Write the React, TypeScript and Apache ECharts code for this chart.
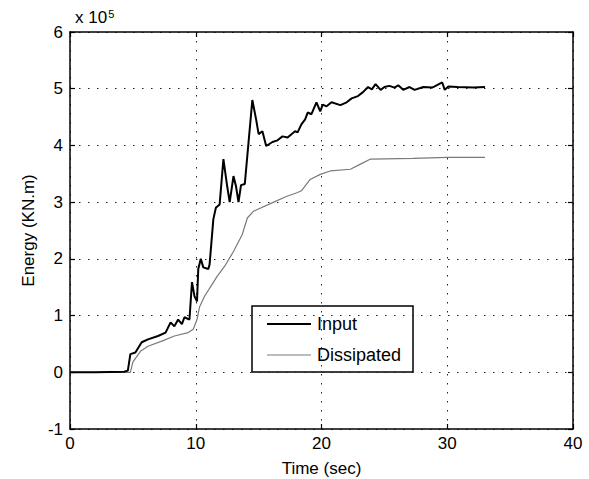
import React, { useEffect, useRef } from "react";
import * as echarts from "echarts";

// Values (energy in units of 10^5 KN.m)
const inputTime = [0, 2, 4.3, 4.6, 4.8, 5.2, 5.7, 6.2, 7.0, 7.6, 8.0, 8.3, 8.6, 8.9, 9.1, 9.5, 9.7, 9.9, 10.1, 10.2, 10.4, 10.6, 11.0, 11.1, 11.4, 11.6, 11.9, 12.2, 12.5, 12.7, 13.0, 13.2, 13.4, 13.6, 13.9, 14.2, 14.5, 14.8, 15.0, 15.3, 15.6, 16.1, 16.5, 16.9, 17.3, 17.9, 18.1, 18.4, 18.7, 18.9, 19.2, 19.6, 19.9, 20.1, 20.4, 20.8, 21.5, 22.0, 22.4, 22.9, 23.3, 23.7, 24.0, 24.3, 24.7, 25.0, 25.4, 25.8, 26.1, 26.5, 27.0, 27.4, 28.1, 28.8, 29.0, 29.6, 29.8, 30.1, 30.8, 32.1, 33.0];
const inputEnergy = [0, 0, 0.01, 0.03, 0.32, 0.35, 0.53, 0.58, 0.64, 0.7, 0.88, 0.81, 0.93, 0.85, 0.97, 0.93, 1.59, 1.34, 1.25, 1.82, 2.0, 1.85, 1.82, 1.9, 2.7, 2.9, 2.96, 3.76, 3.28, 3.0, 3.46, 3.28, 3.0, 3.3, 3.32, 4.06, 4.8, 4.46, 4.2, 4.25, 3.99, 4.06, 4.09, 4.16, 4.14, 4.25, 4.23, 4.37, 4.46, 4.58, 4.55, 4.76, 4.6, 4.72, 4.69, 4.76, 4.71, 4.76, 4.83, 4.87, 4.94, 5.03, 4.99, 5.08, 4.98, 5.03, 5.05, 5.02, 5.06, 4.98, 5.03, 4.98, 5.03, 5.02, 5.04, 5.11, 4.98, 5.04, 5.03, 5.02, 5.03];

const dissipatedTime = [0, 4.8, 5.0, 5.6, 6.2, 7.3, 8.3, 9.4, 9.8, 10.1, 10.3, 10.7, 11.3, 11.7, 12.3, 13.0, 13.7, 14.1, 14.6, 14.9, 16.2, 17.2, 18.1, 18.4, 19.1, 19.9, 20.7, 22.3, 23.1, 23.9, 27.3, 30, 33];
const dissipatedEnergy = [0, 0, 0.18, 0.37, 0.46, 0.55, 0.64, 0.7, 0.76, 0.93, 1.15, 1.34, 1.55, 1.69, 1.87, 2.13, 2.43, 2.72, 2.84, 2.87, 3.0, 3.1, 3.17, 3.2, 3.4, 3.49, 3.55, 3.58, 3.67, 3.76, 3.77, 3.79, 3.79];

const seriesNames = ["Input", "Dissipated"];
const seriesColors = ["#000", "#7a7a7a"];
const seriesWidths = [2, 1.2];
const xTitle = "Time (sec)";
const yTitle = "Energy (KN.m)";

const FONT = "'Liberation Sans', Arial, Helvetica, sans-serif";

export default function App() {
  const ref = useRef<HTMLDivElement>(null);

  useEffect(() => {
    if (!ref.current) return;
    const chart = echarts.init(ref.current, null, { renderer: "svg" });
    const zip = (a: number[], b: number[]) => a.map((t, i) => [t, b[i]]);

    const gridDots = { show: true, lineStyle: { color: "#222", type: [1.5, 7.5], width: 1 } };
    const axisLine = { show: true, onZero: false, lineStyle: { color: "#000", width: 1.5 } };
    const tick = { show: true, inside: true, length: 5, lineStyle: { color: "#000", width: 1.2 } };
    const label = { color: "#000", fontSize: 17, fontFamily: FONT };

    // legend drawn as a framed box (MATLAB style)
    const lgX = 252, lgY = 306, lgW = 161, lgH = 66;
    const rowYs = [324, 355];
    const legendEls: any[] = [
      {
        type: "rect",
        shape: { x: lgX, y: lgY, width: lgW, height: lgH },
        style: { fill: "#fff", stroke: "#000", lineWidth: 1.5 },
      },
    ];
    seriesNames.forEach((n, i) => {
      legendEls.push({
        type: "line",
        shape: { x1: lgX + 15, y1: rowYs[i], x2: lgX + 59, y2: rowYs[i] },
        style: { stroke: seriesColors[i], lineWidth: seriesWidths[i] },
      });
      legendEls.push({
        type: "text",
        x: lgX + 65,
        y: rowYs[i],
        style: { text: n, fill: "#000", fontSize: 18, fontFamily: FONT, verticalAlign: "middle", align: "left" },
      });
    });

    chart.setOption({
      animation: false,
      backgroundColor: "#fff",
      grid: { left: 70, right: 16, top: 32, bottom: 50, outerBoundsMode: "none" },
      graphic: [
        {
          type: "text",
          left: 75,
          top: 8,
          style: {
            text: "x 10{sup|5}",
            fill: "#000",
            fontSize: 17,
            fontFamily: FONT,
            rich: { sup: { fontSize: 11, verticalAlign: "top", padding: [0, 0, 8, 1], fontFamily: FONT, fill: "#000" } },
          },
        },
        { type: "group", z: 100, children: legendEls },
      ],
      xAxis: [
        {
          type: "value",
          min: 0,
          max: 40,
          interval: 10,
          name: xTitle,
          nameLocation: "middle",
          nameGap: 31,
          nameTextStyle: { color: "#000", fontSize: 17, fontFamily: FONT },
          axisLine,
          axisTick: tick,
          axisLabel: { ...label, margin: 6 },
          splitLine: gridDots,
        },
        {
          type: "value",
          position: "top",
          min: 0,
          max: 40,
          interval: 10,
          axisLine,
          axisTick: tick,
          axisLabel: { show: false },
          splitLine: { show: false },
        },
      ],
      yAxis: [
        {
          type: "value",
          min: -1,
          max: 6,
          interval: 1,
          name: yTitle,
          nameLocation: "middle",
          nameGap: 31,
          nameTextStyle: { color: "#000", fontSize: 17, fontFamily: FONT },
          axisLine,
          axisTick: tick,
          axisLabel: { ...label, margin: 7 },
          splitLine: gridDots,
        },
        {
          type: "value",
          position: "right",
          min: -1,
          max: 6,
          interval: 1,
          axisLine,
          axisTick: tick,
          axisLabel: { show: false },
          splitLine: { show: false },
        },
      ],
      series: [
        {
          name: seriesNames[0],
          type: "line",
          data: zip(inputTime, inputEnergy),
          symbol: "none",
          lineStyle: { color: seriesColors[0], width: seriesWidths[0] },
          itemStyle: { color: seriesColors[0] },
          z: 3,
        },
        {
          name: seriesNames[1],
          type: "line",
          data: zip(dissipatedTime, dissipatedEnergy),
          symbol: "none",
          lineStyle: { color: seriesColors[1], width: seriesWidths[1] },
          itemStyle: { color: seriesColors[1] },
          z: 2,
        },
      ],
    });
    return () => chart.dispose();
  }, []);

  return (
    <div
      ref={ref}
      style={{ position: "fixed", left: 0, top: 0, width: 589, height: 479, background: "#fff" }}
    />
  );
}
